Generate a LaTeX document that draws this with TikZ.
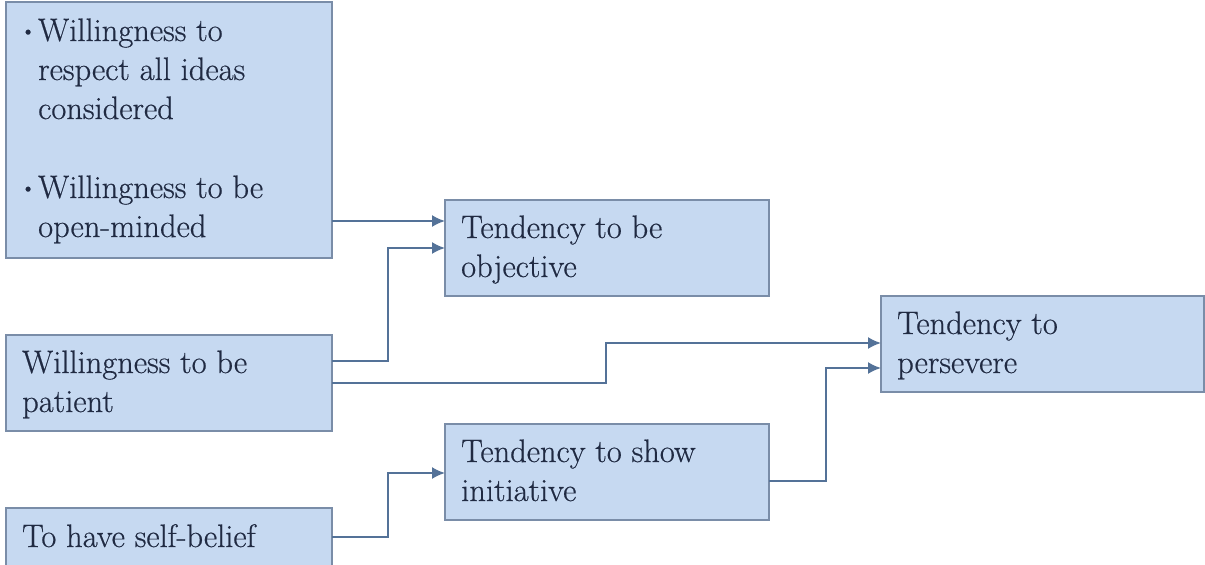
\documentclass[tikz,border=0pt]{standalone}
\usepackage{fontspec}
\setmainfont{Latin Modern Roman}[BoldFont={Latin Modern Roman}, BoldFeatures={FakeBold=0.5}]
\usetikzlibrary{arrows.meta}

\definecolor{boxfill}{RGB}{198,217,241}
\definecolor{boxline}{RGB}{122,141,168}
\definecolor{wire}{RGB}{84,114,152}
\definecolor{ink}{RGB}{32,42,66}

\tikzset{
  card/.style={draw=boxline, line width=1.5pt, fill=boxfill, rectangle,
    inner sep=0pt, outer sep=0pt, anchor=north west},
  lbl/.style={anchor=base west, inner sep=0pt, text=ink,
    font=\bfseries\fontsize{32.5}{39}\selectfont},
  dot/.style={anchor=base west, inner sep=0pt, text=ink,
    font=\bfseries\fontsize{22}{26}\selectfont},
  link/.style={draw=wire, line width=1.8pt, -{Latex[length=13pt,width=12pt]}}
}

\begin{document}
\begin{tikzpicture}[x=1pt,y=-1pt]
  \clip (0,0) rectangle (1205,565);
  \fill[white] (0,0) rectangle (1205,565);

  % boxes
  \node[card, minimum width=326pt, minimum height=256pt] (A) at (6,2) {};
  \node[card, minimum width=324pt, minimum height=96pt]  (B) at (445,200) {};
  \node[card, minimum width=326pt, minimum height=96pt]  (C) at (6,335) {};
  \node[card, minimum width=326pt, minimum height=80pt]  (D) at (6,508) {};
  \node[card, minimum width=324pt, minimum height=96pt]  (E) at (445,424) {};
  \node[card, minimum width=323pt, minimum height=96pt]  (F) at (881,296) {};

  % texts
  \node[dot] (a0) at (20,38) {\textbullet};
  \node[lbl] (a1) at (38,41)  {Willingness to};
  \node[lbl] (a2) at (38,80)  {respect all ideas};
  \node[lbl] (a3) at (38,119) {considered};
  \node[dot] (a4) at (20,195) {\textbullet};
  \node[lbl] (a5) at (38,198) {Willingness to be};
  \node[lbl] (a6) at (38,237) {open-minded};

  \node[lbl] (b1) at (461,238) {Tendency to be};
  \node[lbl] (b2) at (461,277) {objective};

  \node[lbl] (c1) at (22,373) {Willingness to be};
  \node[lbl] (c2) at (22,412) {patient};

  \node[lbl] (d1) at (22,547) {To have self-belief};

  \node[lbl] (e1) at (461,462) {Tendency to show};
  \node[lbl] (e2) at (461,501) {initiative};

  \node[lbl] (f1) at (897,334) {Tendency to};
  \node[lbl] (f2) at (897,373) {persevere};

  % bend points of the connectors
  \coordinate (ab) at (0,221);
  \coordinate (cb1) at (388,361);
  \coordinate (cb2) at (388,248);
  \coordinate (cf1) at (606,383);
  \coordinate (cf2) at (606,343);
  \coordinate (de1) at (388,537);
  \coordinate (de2) at (388,473);
  \coordinate (ef1) at (826,481);
  \coordinate (ef2) at (826,368);

  % connectors
  \draw[link] (A.east |- ab) -- (B.west |- ab);
  \draw[link] (C.east |- cb1) -- (cb1) -- (cb2) -- (B.west |- cb2);
  \draw[link] (C.east |- cf1) -- (cf1) -- (cf2) -- (F.west |- cf2);
  \draw[link] (D.east |- de1) -- (de1) -- (de2) -- (E.west |- de2);
  \draw[link] (E.east |- ef1) -- (ef1) -- (ef2) -- (F.west |- ef2);
\end{tikzpicture}
\end{document}
